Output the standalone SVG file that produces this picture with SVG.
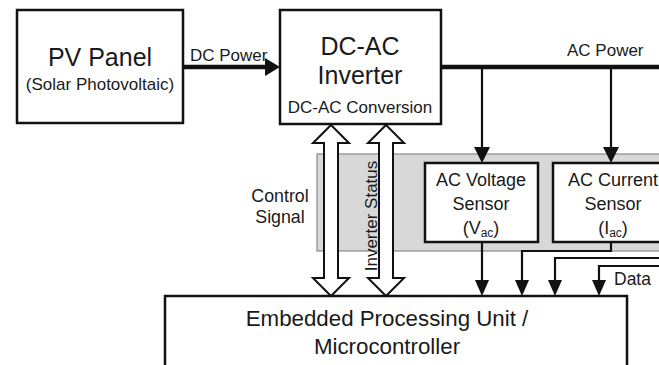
<svg xmlns="http://www.w3.org/2000/svg" width="659" height="365" viewBox="0 0 659 365">
<style>
text{font-family:"Liberation Sans",Arial,sans-serif;fill:#1a1a1a}
.box{fill:#fff;stroke:#111;stroke-width:2.5}
.big{font-size:25px;text-anchor:middle}
.mid{font-size:18px;text-anchor:middle}
.sm{font-size:17px}
.pw{stroke:#111;stroke-width:4.5;fill:none}
.ln{stroke:#111;stroke-width:2.2;fill:none}
.hd{fill:#111}
.hol{fill:#fff;stroke:#111;stroke-width:2;stroke-linejoin:miter}
</style>
<rect width="659" height="365" fill="#fff"/>
<g id="sensor-panel">
<rect x="317" y="154" width="350" height="97" fill="#d8d8d8" stroke="#8a8a8a" stroke-width="1.2"/>
</g>
<g id="pv-panel">
<rect class="box" x="17" y="10" width="166" height="113"/>
<text class="big" x="100" y="66">PV Panel</text>
<text class="sm" x="100" y="90" text-anchor="middle">(Solar Photovoltaic)</text>
</g>
<g id="inverter">
<rect class="box" x="280" y="10" width="161" height="114"/>
<text class="big" x="360" y="55">DC-AC</text>
<text class="big" x="360" y="84">Inverter</text>
<text class="sm" x="360" y="113" text-anchor="middle">DC-AC Conversion</text>
</g>
<g id="voltage-sensor">
<rect class="box" x="425" y="163" width="113" height="79"/>
<text class="mid" x="481" y="186">AC Voltage</text>
<text class="mid" x="481" y="210">Sensor</text>
<text class="mid" x="481" y="234">(V<tspan font-size="12" dy="3">ac</tspan><tspan dy="-3">)</tspan></text>
</g>
<g id="current-sensor">
<rect class="box" x="553" y="163" width="120" height="79"/>
<text class="mid" x="613" y="186">AC Current</text>
<text class="mid" x="613" y="210">Sensor</text>
<text class="mid" x="613" y="234">(I<tspan font-size="12" dy="3">ac</tspan><tspan dy="-3">)</tspan></text>
</g>
<g id="mcu">
<rect class="box" x="165" y="296" width="462" height="90"/>
<text x="387" y="326" font-size="22.3" text-anchor="middle">Embedded Processing Unit /</text>
<text x="387" y="354" font-size="22.3" text-anchor="middle">Microcontroller</text>
</g>
<g id="connectors">
<line class="pw" x1="183" y1="67" x2="267" y2="67"/>
<polygon class="hd" points="280,67 265,58 265,76"/>
<text class="sm" x="190" y="61">DC Power</text>
<line class="pw" x1="441" y1="67" x2="659" y2="67"/>
<text class="sm" x="567" y="56">AC Power</text>
<line class="ln" stroke-width="3" x1="482" y1="67" x2="482" y2="150"/>
<polygon class="hd" points="482,163 474,147 490,147"/>
<line class="ln" stroke-width="3" x1="611" y1="67" x2="611" y2="150"/>
<polygon class="hd" points="611,163 603,147 619,147"/>
<polygon class="hol" points="331,125 349,143 338,143 338,278 349,278 331,296 313,278 324,278 324,143 313,143"/>
<polygon class="hol" points="386,125 404,143 393,143 393,278 404,278 386,296 368,278 379,278 379,143 368,143"/>
<text x="280" y="202" font-size="17.8" text-anchor="middle">Control</text>
<text x="280" y="223" font-size="17.8" text-anchor="middle">Signal</text>
<text font-size="17" text-anchor="middle" transform="translate(377,216) rotate(-90)">Inverter Status</text>
<line class="ln" x1="482" y1="242" x2="482" y2="282"/>
<polygon class="hd" points="482,296 475,280 489,280"/>
<polyline class="ln" points="611,242 611,251 522,251 522,282"/>
<polygon class="hd" points="522,296 515,280 529,280"/>
<polyline class="ln" points="660,258 555,258 555,282"/>
<polygon class="hd" points="555,296 548,280 562,280"/>
<polyline class="ln" points="660,266 599,266 599,282"/>
<polygon class="hd" points="599,296 592,280 606,280"/>
<text x="614" y="285" font-size="17.5">Data</text>
</g>
</svg>
